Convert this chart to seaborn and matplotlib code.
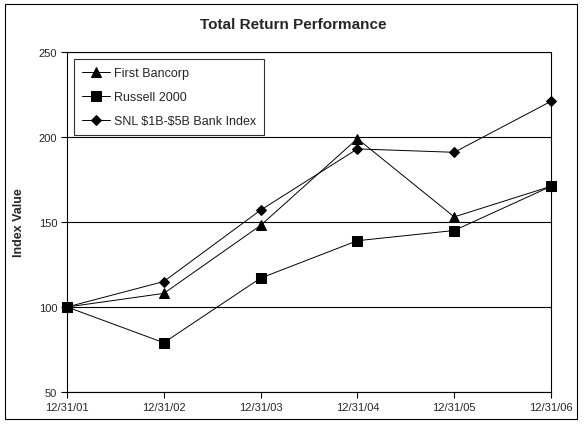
import matplotlib
matplotlib.use("Agg")
import matplotlib.pyplot as plt
import seaborn as sns
import pandas as pd
from matplotlib.patches import Rectangle

# data
dates = ["12/31/01", "12/31/02", "12/31/03", "12/31/04", "12/31/05", "12/31/06"]
first_bancorp = [100, 108, 148, 199, 153, 171]
russell_2000 = [100, 79, 117, 139, 145, 171]
snl_bank = [100, 115, 157, 193, 191, 221]
series_names = ["First Bancorp", "Russell 2000", "SNL \\$1B-\\$5B Bank Index"]

df = pd.DataFrame({
    "x": list(range(len(dates))) * 3,
    "value": first_bancorp + russell_2000 + snl_bank,
    "series": [s for s in series_names for _ in dates],
})

sns.set_style("white")
plt.rcParams["font.family"] = ["Liberation Sans", "DejaVu Sans"]

fig = plt.figure(figsize=(5.88, 4.27), dpi=100)
ax = fig.add_axes([67 / 588, 1 - 393 / 427, (551 - 67) / 588, (393 - 53) / 427])

markers = {series_names[0]: "^", series_names[1]: "s", series_names[2]: "D"}
sizes = {series_names[0]: 7.5, series_names[1]: 6.5, series_names[2]: 5}
for name in series_names:
    sub = df[df["series"] == name]
    sns.lineplot(data=sub, x="x", y="value", ax=ax, color="black", linewidth=0.7,
                 marker=markers[name], markersize=sizes[name], markeredgecolor="black",
                 label=name, clip_on=False, zorder=3)

ax.set_xlim(0, 5)
ax.set_ylim(50, 250)
ax.set_xticks(range(len(dates)))
ax.set_xticklabels(dates)
ax.set_yticks([50, 100, 150, 200, 250])
ax.yaxis.grid(True, color="black", linewidth=0.8)
ax.xaxis.grid(False)
for s in ax.spines.values():
    s.set_color("black")
    s.set_linewidth(0.8)
ax.tick_params(axis="both", direction="out", length=4, width=0.8, color="black",
               labelsize=8, pad=3, bottom=True, left=True)
ax.set_xlabel("")
ax.set_ylabel("Index Value", fontsize=9, fontweight="bold", labelpad=10)

leg = ax.legend(loc="upper left", bbox_to_anchor=(7 / 484, 1 - 7 / 340), frameon=True,
                fancybox=False, edgecolor="black", fontsize=9, handlelength=2.2,
                labelspacing=0.95, borderpad=0.65, handletextpad=0.35, borderaxespad=0)
leg.get_frame().set_linewidth(0.8)

fig.text(293 / 588, 1 - 25 / 427, "Total Return Performance", ha="center", va="center",
         fontsize=11, fontweight="bold")

fig.patches.append(Rectangle((5 / 588, 1 - 420 / 427), (577 - 5) / 588, (420 - 5) / 427,
                             transform=fig.transFigure, fill=False, edgecolor="black",
                             linewidth=0.8))

fig.savefig("out.png", dpi=100)
